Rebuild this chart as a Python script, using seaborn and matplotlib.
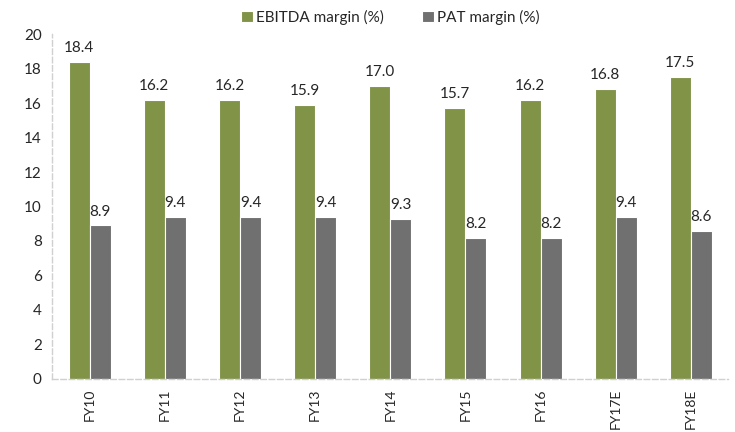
import matplotlib
matplotlib.use("Agg")
import matplotlib.pyplot as plt
import seaborn as sns
import pandas as pd

years = ["FY10", "FY11", "FY12", "FY13", "FY14", "FY15", "FY16", "FY17E", "FY18E"]
ebitda = [18.4, 16.2, 16.2, 15.9, 17.0, 15.7, 16.2, 16.8, 17.5]
pat = [8.9, 9.4, 9.4, 9.4, 9.3, 8.2, 8.2, 9.4, 8.6]
series = ["EBITDA margin (%)", "PAT margin (%)"]
colors = ["#86A03A", "#707070"]

df = pd.DataFrame({"year": years * 2,
                   "value": ebitda + pat,
                   "series": [series[0]] * len(years) + [series[1]] * len(years)})

sns.set_style("white")
plt.rcParams["font.family"] = ["Lato", "DejaVu Sans"]

fig = plt.figure(figsize=(7.35, 4.32), dpi=100)
ax = fig.add_axes([0.071, 0.123, 0.92, 0.798])
sns.barplot(data=df, x="year", y="value", hue="series", palette=colors,
            width=0.56, gap=0, edgecolor="white", linewidth=0.8, ax=ax)

for cont in ax.containers:
    ax.bar_label(cont, fmt="%.1f", padding=5, fontsize=11)

ax.set_ylim(0, 20)
ax.set_yticks(range(0, 21, 2))
ax.set_xlim(-0.5, len(years) - 0.5)
ax.set_xlabel("")
ax.set_ylabel("")
ax.set_xticks(range(len(years)))
ax.tick_params(axis="x", rotation=90, labelsize=10, length=4, pad=3, color="#d0d0d0")
ax.tick_params(axis="y", labelsize=11, length=4, color="#d0d0d0")
for s in ["top", "right"]:
    ax.spines[s].set_visible(False)
for s in ["left", "bottom"]:
    ax.spines[s].set_color("#d0d0d0")
    ax.spines[s].set_linestyle((0, (4, 2)))
    ax.spines[s].set_linewidth(1)

ax.legend(loc="lower center", bbox_to_anchor=(0.5, 1.0), ncol=2, frameon=False,
          fontsize=11, handlelength=0.8, handleheight=0.8, handletextpad=0.2,
          columnspacing=2.5, borderaxespad=0.2)

fig.savefig("out.png", dpi=100)
